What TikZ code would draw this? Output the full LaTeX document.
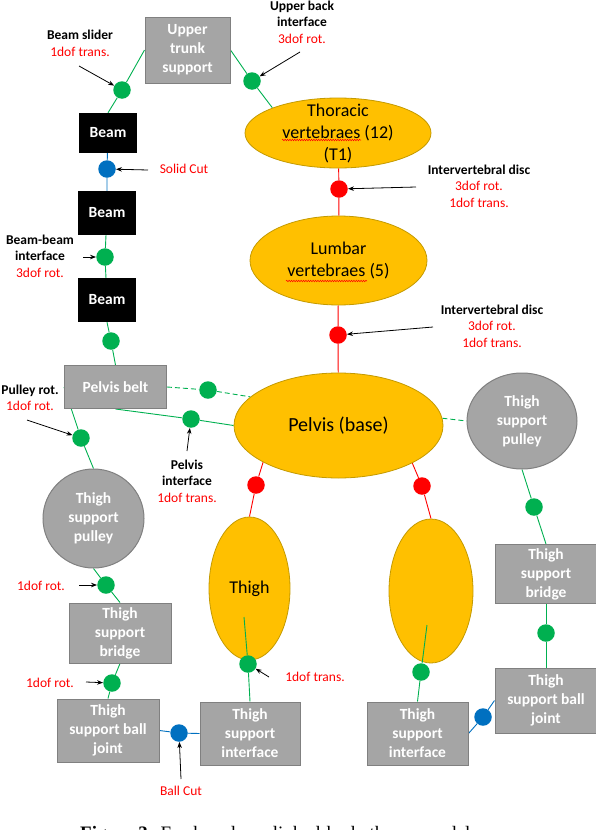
\documentclass[tikz,border=0pt]{standalone}
\usepackage{fontspec}
\setmainfont{Carlito}
\newfontfamily\capfont{Liberation Serif}
\usetikzlibrary{shapes.geometric,arrows.meta,backgrounds,decorations.pathmorphing}
\definecolor{gold}{HTML}{FFC000}
\definecolor{golde}{HTML}{C49A00}
\definecolor{bgray}{HTML}{A5A5A5}
\definecolor{bgraye}{HTML}{808080}
\definecolor{jgreen}{HTML}{00B050}
\definecolor{jred}{HTML}{FF0000}
\definecolor{jblue}{HTML}{0070C0}
\begin{document}
\begin{tikzpicture}[x=1pt,y=-1pt,
  gbox/.style={rectangle, draw=bgraye, line width=1pt, fill=bgray, text=white, font=\fontsize{15.5}{19}\selectfont\bfseries, align=center, inner sep=0pt},
  beambox/.style={rectangle, fill=black, text=white, font=\fontsize{15.5}{19}\selectfont\bfseries, inner sep=0pt},
  goldell/.style={ellipse, fill=gold, draw=golde, line width=0.8pt, inner sep=0pt},
  grayell/.style={ellipse, fill=bgray, draw=bgraye, line width=1pt, inner sep=0pt},
  elltext/.style={font=\fontsize{18}{22}\selectfont, align=center, text=black, inner sep=0pt},
  grtext/.style={font=\fontsize{15.5}{19}\selectfont\bfseries, align=center, text=white, inner sep=0pt},
  jdot/.style={circle, fill=#1, inner sep=0pt, minimum size=17.5pt},
  glink/.style={draw=jgreen, line width=0.9pt},
  rlink/.style={draw=jred, line width=0.9pt},
  blink/.style={draw=jblue, line width=0.9pt},
  lbl/.style={font=\fontsize{13.5}{16.5}\selectfont, align=center, inner sep=0pt},
  ptr/.style={-{Stealth[length=6pt,width=4.5pt]}, line width=0.8pt, black},
  spell/.style={jred, line width=0.5pt, decorate, decoration={snake, amplitude=0.8pt, segment length=2.4pt}},
]
\useasboundingbox (0,0) rectangle (596,830);

% boxes
\node[gbox, minimum width=85pt, minimum height=66pt] (uts) at (187.5,50) {Upper\\trunk\\support};
\node[beambox, minimum width=58pt, minimum height=40pt] (beam1) at (108,133) {Beam};
\node[beambox, minimum width=58pt, minimum height=44pt] (beam2) at (107,213) {Beam};
\node[beambox, minimum width=58pt, minimum height=44pt] (beam3) at (107,300) {Beam};
\node[gbox, minimum width=102pt, minimum height=43pt] (belt) at (115.5,387) {Pelvis belt};
\node[gbox, minimum width=102pt, minimum height=60pt] (lbridge) at (120,633) {Thigh\\support\\bridge};
\node[gbox, minimum width=102pt, minimum height=59pt] (rbridge) at (546,574) {Thigh\\support\\bridge};
\node[gbox, minimum width=102pt, minimum height=63pt] (lball) at (108,730.5) {Thigh\\support ball\\joint};
\node[gbox, minimum width=102pt, minimum height=65pt] (rball) at (546,700.5) {Thigh\\support ball\\joint};
\node[gbox, minimum width=100pt, minimum height=63pt] (lint) at (250,733.5) {Thigh\\support\\interface};
\node[gbox, minimum width=101pt, minimum height=63pt] (rint) at (417.5,733.5) {Thigh\\support\\interface};

% ellipses
\node[goldell, minimum width=186pt, minimum height=70pt, label={[elltext]center:{Thoracic\\vertebraes (12)\\(T1)}}] (thor) at (338,133) {};
\node[goldell, minimum width=177pt, minimum height=89pt, label={[elltext]center:{Lumbar\\vertebraes (5)}}] (lumb) at (338.5,260.5) {};
\node[goldell, minimum width=209pt, minimum height=105pt, label={[elltext, font=\fontsize{20}{22}\selectfont]center:{Pelvis (base)}}] (pelv) at (338.5,425.5) {};
\node[goldell, minimum width=81pt, minimum height=143pt, label={[elltext]center:{Thigh}}] (lthigh) at (249.5,588.5) {};
\node[goldell, minimum width=84pt, minimum height=144pt] (rthigh) at (431,591) {};
\node[grayell, minimum width=110pt, minimum height=96pt, label={[grtext]center:{Thigh\\support\\pulley}}] (rpul) at (522,421) {};
\node[grayell, minimum width=101pt, minimum height=99pt, label={[grtext]center:{Thigh\\support\\pulley}}] (lpul) at (93.5,518.5) {};

% spell-check waves
\draw[spell] (282,140) -- (361,140);
\draw[spell] (286,281) -- (367,281);

% joint dots
\node[jdot=jgreen] (d_bs) at (122,90) {};
\node[jdot=jgreen] (d_ub) at (252,81) {};
\node[jdot=jblue] (d_sc) at (107,169) {};
\node[jdot=jgreen] (d_bb) at (105,257) {};
\node[jdot=jgreen] (d_b3) at (111,341) {};
\node[jdot=jred] (d_iv1) at (339,189) {};
\node[jdot=jred] (d_iv2) at (338,335) {};
\node[jdot=jgreen] (d_belt) at (208,390) {};
\node[jdot=jgreen] (d_pi) at (191,419) {};
\node[jdot=jgreen] (d_pr) at (81,438) {};
\node[jdot=jred] (d_lhr) at (256,485) {};
\node[jdot=jred] (d_rhr) at (422,486) {};
\node[jdot=jgreen] (d_rp) at (534,507) {};
\node[jdot=jgreen] (d_rb) at (546,633) {};
\node[jdot=jgreen] (d_lp) at (106,585) {};
\node[jdot=jgreen] (d_lb) at (112,683) {};
\node[jdot=jgreen] (d_lt) at (248,664) {};
\node[jdot=jgreen] (d_rt) at (421,672) {};
\node[jdot=jblue] (d_lbc) at (179,733) {};
\node[jdot=jblue] (d_rbc) at (483,717) {};

% connectors behind
\begin{scope}[on background layer]
\draw[glink] (uts.west) -- (d_bs) -- (beam1.north);
\draw[glink] (uts.east) -- (d_ub) -- (thor.159);
\draw[blink] (beam1) -- (d_sc) -- (beam2);
\draw[glink] (beam2) -- (d_bb) -- (beam3);
\draw[glink] (beam3.south) -- (d_b3) -- (belt.north);
\draw[rlink] (thor) -- (d_iv1) -- (lumb);
\draw[rlink] (lumb) -- (d_iv2) -- (pelv);
\draw[glink, dash pattern=on 5pt off 3pt] (belt.east) -- (d_belt) -- (pelv.162);
\draw[glink] (belt.south) -- (d_pi) -- (pelv.west);
\draw[glink, dash pattern=on 5pt off 3pt] (pelv.4) -- (rpul.west);
\draw[glink] (belt.west) -- (d_pr) -- (lpul.north);
\draw[glink] (lpul.south) -- (d_lp) -- (lbridge.north);
\draw[glink] (lbridge.south) -- (d_lb) -- (lball.north);
\draw[blink] (lball.east) -- (d_lbc) -- (lint.west);
\draw[rlink] (pelv.206) -- (d_lhr) -- (lthigh.north);
\draw[rlink] (pelv.333) -- (d_rhr) -- (rthigh.north);
\draw[glink] (rpul.south) -- (d_rp) -- (rbridge.north);
\draw[glink] (rbridge.south) -- (d_rb) -- (rball.north);
\draw[blink] (rball.west) -- (d_rbc) -- (rint.east);
\draw[glink] (d_lt) -- (lint.north);
\draw[glink] (d_rt) -- (rint.north);
\end{scope}
\coordinate (lti) at (244,617);
\coordinate (rti) at (427,625);
\draw[glink] (lti) -- (d_lt);
\draw[glink] (rti) -- (d_rt);

% labels
\node[lbl] (Lbs) at (80,43.5) {\textbf{Beam slider}\\\textcolor{jred}{1dof trans.}};
\node[lbl] (Lub) at (302,22) {\textbf{Upper back}\\\textbf{interface}\\\textcolor{jred}{3dof rot.}};
\node[lbl, text=jred] (Lsc) at (184,169) {Solid Cut};
\node[lbl] (Lbb) at (40,256) {\textbf{Beam-beam}\\\textbf{interface}\\\textcolor{jred}{3dof rot.}};
\node[lbl] (Liv1) at (479,186) {\textbf{Intervertebral disc}\\\textcolor{jred}{3dof rot.}\\\textcolor{jred}{1dof trans.}};
\node[lbl] (Liv2) at (492,326) {\textbf{Intervertebral disc}\\\textcolor{jred}{3dof rot.}\\\textcolor{jred}{1dof trans.}};
\node[lbl] (Lpr) at (30,398) {\textbf{Pulley rot.}\\\textcolor{jred}{1dof rot.}};
\node[lbl] (Lpi) at (187,481) {\textbf{Pelvis}\\\textbf{interface}\\\textcolor{jred}{1dof trans.}};
\node[lbl, text=jred] (Llp) at (41,586) {1dof rot.};
\node[lbl, text=jred] (Llb) at (50,683) {1dof rot.};
\node[lbl, text=jred] (Lbc) at (181,791) {Ball Cut};
\node[lbl, text=jred] (Llt) at (315,677) {1dof trans.};

% pointer arrows
\coordinate (a_bs) at (79,66);
\coordinate (a_ub) at (300,52);
\coordinate (a_sc) at (148,170);
\coordinate (a_bb) at (83,257);
\coordinate (a_iv1) at (416,187);
\coordinate (a_iv2) at (433,327);
\coordinate (a_pr) at (27,420);
\coordinate (a_pi) at (187,451);
\coordinate (a_lp) at (79,585);
\coordinate (a_lb) at (86,682);
\coordinate (a_bc) at (181,779);
\coordinate (a_lt) at (269,677);
\draw[ptr] (a_bs) -- (d_bs);
\draw[ptr] (a_ub) -- (d_ub);
\draw[ptr] (a_sc) -- (d_sc);
\draw[ptr] (a_bb) -- (d_bb);
\draw[ptr] (a_iv1) -- (d_iv1);
\draw[ptr] (a_iv2) -- (d_iv2);
\draw[ptr] (a_pr) -- (d_pr);
\draw[ptr] (a_pi) -- (d_pi);
\draw[ptr] (a_lp) -- (d_lp);
\draw[ptr] (a_lb) -- (d_lb);
\draw[ptr] (a_bc) -- (d_lbc);
\draw[ptr] (a_lt) -- (d_lt);

% caption (cut off at the bottom edge)
\begin{scope}
\clip (0,0) rectangle (596,830);
\node[anchor=base west, inner sep=0pt, font=\capfont\fontsize{19}{22}\selectfont] (cap) at (80,839) {\textbf{Figure 3:} Fresh-cadaver linked-body thorax model};
\end{scope}
\end{tikzpicture}
\end{document}
